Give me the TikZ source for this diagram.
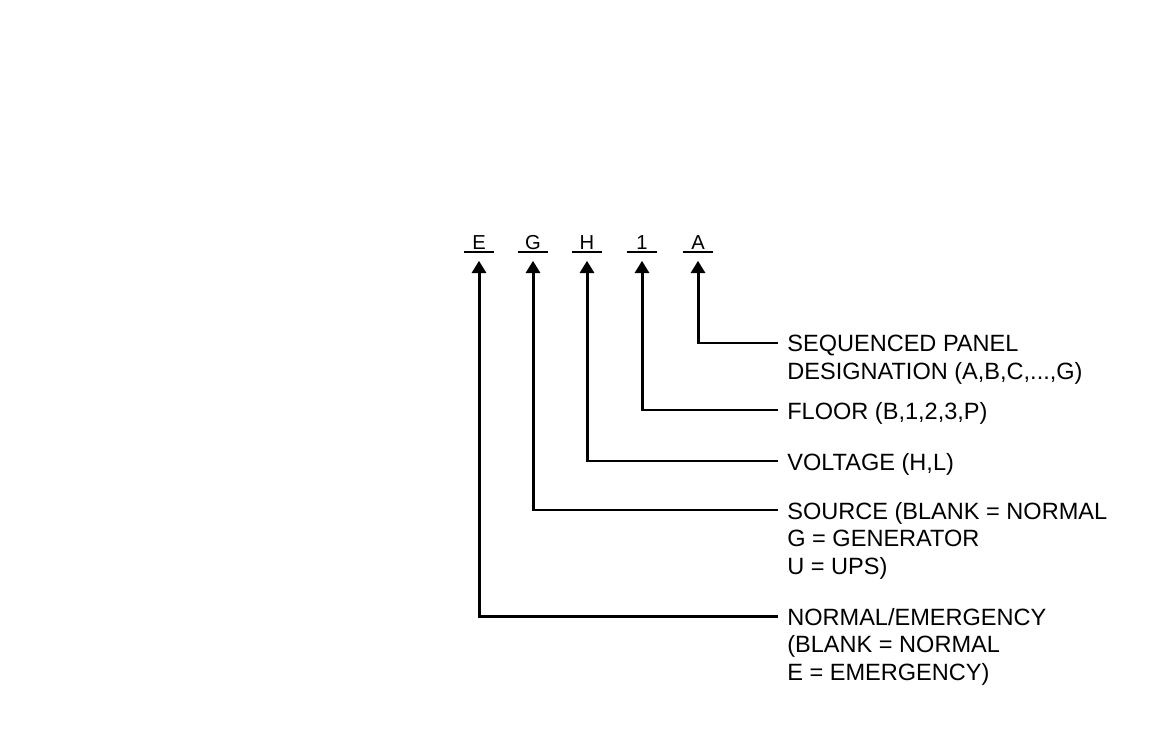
\documentclass[tikz,border=0pt]{standalone}
\usepackage{fontspec}
\setmainfont{Liberation Sans}
\usetikzlibrary{arrows.meta,positioning}

\begin{document}
\begin{tikzpicture}[x=0.02cm,y=-0.02cm,
  code/.style={font=\fontsize{11.5}{14}\selectfont, anchor=base, minimum width=0.6cm,
    inner xsep=0pt, inner ysep=1.5pt, text depth=0pt},
  note/.style={font=\fontsize{13.4}{15.6}\selectfont, anchor=north west, align=left, inner sep=0pt},
  lead/.style={line width=1.7pt, -{Triangle[length=7pt,width=8pt]}, shorten >=5pt},
  bar/.style={line width=1.5pt}]
\useasboundingbox (0,0) rectangle (1169,750);

%記号
\node[code] (E) at (479,249) {E};
\node[code] (G) at (533,249) {G};
\node[code] (H) at (587,249) {H};
\node[code] (F) at (642,249) {1};
\node[code] (A) at (698,249) {A};

%下線
\draw[bar] (E.south west) -- (E.south east);
\draw[bar] (G.south west) -- (G.south east);
\draw[bar] (H.south west) -- (H.south east);
\draw[bar] (F.south west) -- (F.south east);
\draw[bar] (A.south west) -- (A.south east);

%説明
\node[note] (lA) at (787,335) {SEQUENCED PANEL\\DESIGNATION (A,B,C,...,G)};
\node[note] (lF) at (787,402) {FLOOR (B,1,2,3,P)};
\node[note] (lH) at (787,453) {VOLTAGE (H,L)};
\node[note] (lG) at (787,502) {SOURCE (BLANK = NORMAL\\G = GENERATOR\\U = UPS)};
\node[note] (lE) at (787,608) {NORMAL/EMERGENCY\\(BLANK = NORMAL\\E = EMERGENCY)};

%引出線
\draw[lead] ([shift={(-9,8)}]lA.north west) -| (A.south);
\draw[lead] ([shift={(-9,8)}]lF.north west) -| (F.south);
\draw[lead] ([shift={(-9,8)}]lH.north west) -| (H.south);
\draw[lead] ([shift={(-9,8)}]lG.north west) -| (G.south);
\draw[lead] ([shift={(-9,8)}]lE.north west) -| (E.south);
\end{tikzpicture}
\end{document}
